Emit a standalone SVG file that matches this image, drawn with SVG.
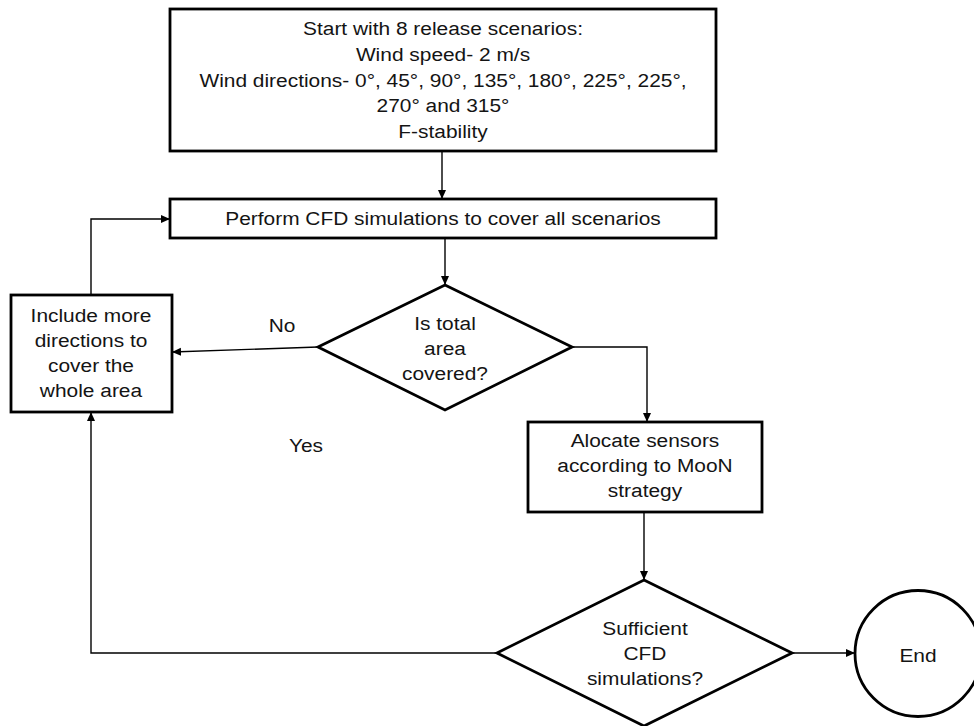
<svg xmlns="http://www.w3.org/2000/svg" width="974" height="726" viewBox="0 0 974 726">
  <defs>
    <marker id="arr" markerUnits="userSpaceOnUse" markerWidth="10" markerHeight="9" refX="9" refY="4" orient="auto">
      <path d="M0,0 L9,4 L0,8 z" fill="#000"/>
    </marker>
    <style>
      .box { fill: #fff; stroke: #000; stroke-width: 2.8; }
      .con { fill: none; stroke: #000; stroke-width: 1.4; }
      .arr { marker-end: url(#arr); }
      text { font-family: "Liberation Sans", Arial, sans-serif; font-size: 19px; fill: #141414; text-anchor: middle; }
    </style>
  </defs>
  <rect width="974" height="726" fill="#fff"/>

  <g id="connectors">
    <line class="con arr" x1="442" y1="151" x2="442" y2="199"/>
    <line class="con arr" x1="445" y1="238" x2="445" y2="285"/>
    <polyline class="con arr" points="91,295 91,219 170,219"/>
    <line class="con arr" x1="318" y1="347" x2="172" y2="352"/>
    <polyline class="con arr" points="572,347 647,347 647,422"/>
    <line class="con arr" x1="644" y1="512" x2="644" y2="580"/>
    <line class="con arr" x1="792" y1="653" x2="855" y2="653"/>
    <polyline class="con arr" points="497,653 91,653 91,412"/>
  </g>

  <g id="start">
    <rect class="box" x="170" y="9" width="546" height="142"/>
    <g transform="matrix(1.1 0 0 1 -44.3 0)">
      <text x="443" y="35">Start with 8 release scenarios:</text>
      <text x="443" y="61">Wind speed- 2 m/s</text>
      <text x="443" y="87">Wind directions- 0°, 45°, 90°, 135°, 180°, 225°, 225°,</text>
      <text x="443" y="112.5">270° and 315°</text>
      <text x="443" y="138">F-stability</text>
    </g>
  </g>

  <g id="perform">
    <rect class="box" x="170" y="199" width="546" height="39"/>
    <g transform="matrix(1.1 0 0 1 -44.3 0)">
      <text x="443" y="225.5">Perform CFD simulations to cover all scenarios</text>
    </g>
  </g>

  <g id="include">
    <rect class="box" x="11" y="295" width="161" height="117"/>
    <g transform="matrix(1.1 0 0 1 -9.1 0)">
      <text x="91" y="322">Include more</text>
      <text x="91" y="347">directions to</text>
      <text x="91" y="372">cover the</text>
      <text x="91" y="397">whole area</text>
    </g>
  </g>

  <g id="decision-area">
    <polygon class="box" points="445,285 572,347 445,410 318,347"/>
    <g transform="matrix(1.1 0 0 1 -44.5 0)">
      <text x="445" y="330">Is total</text>
      <text x="445" y="355">area</text>
      <text x="445" y="380">covered?</text>
    </g>
  </g>

  <g id="label-no">
    <text transform="matrix(1.1 0 0 1 -28.2 0)" x="282" y="332">No</text>
  </g>

  <g id="label-yes">
    <text transform="matrix(1.1 0 0 1 -30.6 0)" x="306" y="452">Yes</text>
  </g>

  <g id="allocate">
    <rect class="box" x="528" y="422" width="234" height="90"/>
    <g transform="matrix(1.1 0 0 1 -64.5 0)">
      <text x="645" y="447">Alocate sensors</text>
      <text x="645" y="472">according to MooN</text>
      <text x="645" y="497">strategy</text>
    </g>
  </g>

  <g id="decision-cfd">
    <polygon class="box" points="644,580 792,653 644,726 497,653"/>
    <g transform="matrix(1.1 0 0 1 -64.5 0)">
      <text x="645" y="635">Sufficient</text>
      <text x="645" y="660">CFD</text>
      <text x="645" y="685">simulations?</text>
    </g>
  </g>

  <g id="end">
    <circle class="box" cx="918" cy="653.5" r="63"/>
    <g transform="matrix(1.1 0 0 1 -91.8 0)">
      <text x="918" y="662">End</text>
    </g>
  </g>
</svg>
